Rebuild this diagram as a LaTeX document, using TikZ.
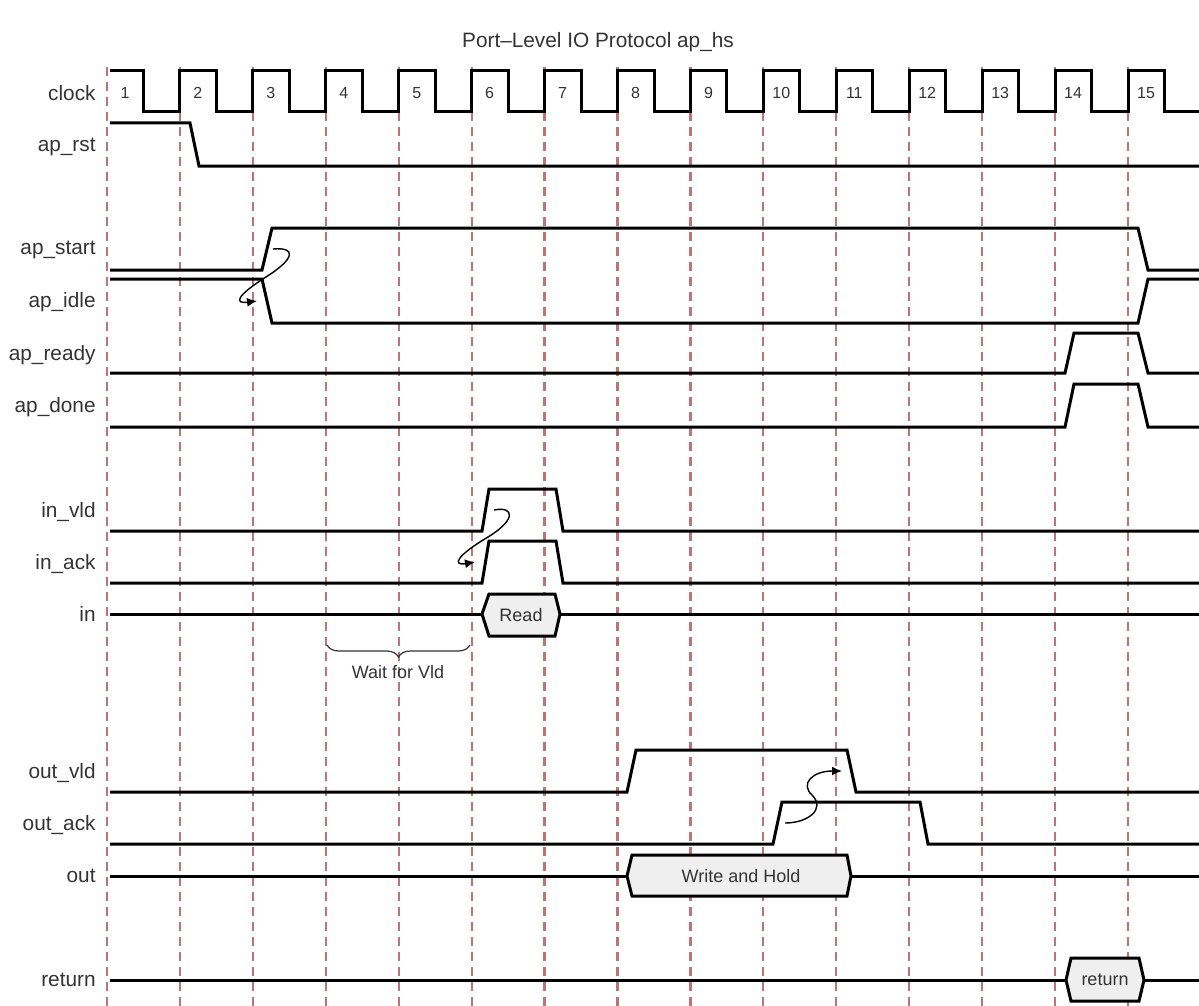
\documentclass[tikz,border=0pt]{standalone}
\usepackage{fontspec}
\setmainfont{Liberation Sans}
\usepackage{tikz}
\usetikzlibrary{arrows.meta, decorations.pathreplacing}
\definecolor{GridRed}{HTML}{BC7474}
\definecolor{BusGrey}{HTML}{EFEFEF}
\definecolor{TextGrey}{HTML}{333333}

\tikzset{
  sig/.style={line width=1.5pt, line join=miter},
  gridline/.style={GridRed, line width=1.1pt, dash pattern=on 4.5pt off 3pt},
  lbl/.style={anchor=east, inner sep=0pt, font=\fontsize{10.4}{12}\selectfont, text=TextGrey},
  clknum/.style={inner sep=0pt, font=\fontsize{8}{10}\selectfont, text=TextGrey},
  busbox/.style={sig, fill=BusGrey},
  bustext/.style={inner sep=0pt, font=\fontsize{9}{11}\selectfont, text=TextGrey},
  handshake/.style={-{Latex[length=5pt,width=4.5pt]}, line width=0.7pt},
}

\begin{document}
\begin{tikzpicture}[x=0.5pt, y=-0.5pt]
  \useasboundingbox (0,0) rectangle (1199,1006);

  \node[lbl, anchor=center] (title) at (598,42) {Port--Level IO Protocol ap\_hs};

  % clock edges
  \foreach \k in {1,...,15}
    \draw[gridline] ({107+72.93*(\k-1)},67) -- ({107+72.93*(\k-1)},1006);

  % signal names
  \node[lbl] (lclock) at (96,93) {clock};
  \node[lbl] (lrst) at (96,147) {ap\_rst};
  \node[lbl] (lstart) at (96,250) {ap\_start};
  \node[lbl] (lidle) at (96,302) {ap\_idle};
  \node[lbl] (lready) at (96,355) {ap\_ready};
  \node[lbl] (ldone) at (96,407) {ap\_done};
  \node[lbl] (linvld) at (96,512) {in\_vld};
  \node[lbl] (linack) at (96,564) {in\_ack};
  \node[lbl] (lin) at (96,614) {in};
  \node[lbl] (loutvld) at (96,773) {out\_vld};
  \node[lbl] (loutack) at (96,825) {out\_ack};
  \node[lbl] (lout) at (96,876) {out};
  \node[lbl] (lreturn) at (96,980) {return};

  % clock
  \draw[sig] (110,71) foreach \k in {1,...,14} {
      -- ({107+72.93*(\k-1)+36.5},71) -- ({107+72.93*(\k-1)+36.5},112)
      -- ({107+72.93*\k},112) -- ({107+72.93*\k},71)}
    -- (1164.5,71) -- (1164.5,112) -- (1199,112);
  \foreach \k in {1,...,15}
    \node[clknum] (num\k) at ({107+72.93*(\k-1)+18},93) {\k};

  % block control
  \draw[sig] (110,123) -- (190,123) -- (199,166) -- (1199,166);
  \draw[sig] (110,270) -- (262,270) -- (272,228) -- (1138,228) -- (1148,270) -- (1199,270);
  \draw[sig] (110,279) -- (262,279) -- (272,323) -- (1138,323) -- (1148,279) -- (1199,279);
  \draw[sig] (110,373) -- (1065,373) -- (1074,333) -- (1138,333) -- (1148,373) -- (1199,373);
  \draw[sig] (110,427) -- (1065,427) -- (1074,384) -- (1138,384) -- (1148,427) -- (1199,427);

  % input port
  \draw[sig] (110,531) -- (482,531) -- (489,489) -- (556,489) -- (563,531) -- (1199,531);
  \draw[sig] (110,583) -- (482,583) -- (489,541) -- (556,541) -- (563,583) -- (1199,583);
  \draw[sig] (110,614) -- (482,614);
  \draw[sig] (560,614) -- (1199,614);
  \draw[busbox] (482,614) -- (489,594) -- (555,594) -- (560,614) -- (555,636) -- (489,636) -- cycle;
  \node[bustext] (read) at (521,615) {Read};

  \draw[decorate, decoration={brace, mirror, amplitude=6pt}, line width=0.6pt, TextGrey]
    (327,645) -- (470,645);
  \node[bustext] (wait) at (398,672) {Wait for Vld};

  % output port
  \draw[sig] (110,792) -- (627,792) -- (636,750) -- (847,750) -- (856,792) -- (1199,792);
  \draw[sig] (110,844) -- (773,844) -- (782,802) -- (920,802) -- (928,844) -- (1199,844);
  \draw[sig] (110,876) -- (627,876);
  \draw[sig] (851,876) -- (1199,876);
  \draw[busbox] (627,876) -- (632,855) -- (847,855) -- (851,876) -- (847,896) -- (632,896) -- cycle;
  \node[bustext] (write) at (741,876) {Write and Hold};

  % return
  \draw[sig] (110,980) -- (1066,980);
  \draw[sig] (1144,980) -- (1199,980);
  \draw[busbox] (1066,980) -- (1071,958) -- (1139,958) -- (1144,980) -- (1139,1001) -- (1071,1001) -- cycle;
  \node[bustext] (ret) at (1105,980) {return};

  % handshakes
  \coordinate (startgo) at (273,249);
  \coordinate (idleack) at (257,301);
  \coordinate (vldgo) at (494,510);
  \coordinate (ackin) at (475,562);
  \coordinate (ackgo) at (785,823);
  \coordinate (vldout) at (842,771);
  \draw[handshake] (startgo) .. controls (296,247) and (296,258) .. (266,277)
    .. controls (236,296) and (234,304) .. (idleack);
  \draw[handshake] (vldgo) .. controls (515,506) and (516,520) .. (488,537)
    .. controls (456,556) and (452,566) .. (ackin);
  \draw[handshake] (ackgo) .. controls (808,823) and (826,809) .. (812,795)
    .. controls (800,784) and (812,771) .. (vldout);
\end{tikzpicture}
\end{document}
